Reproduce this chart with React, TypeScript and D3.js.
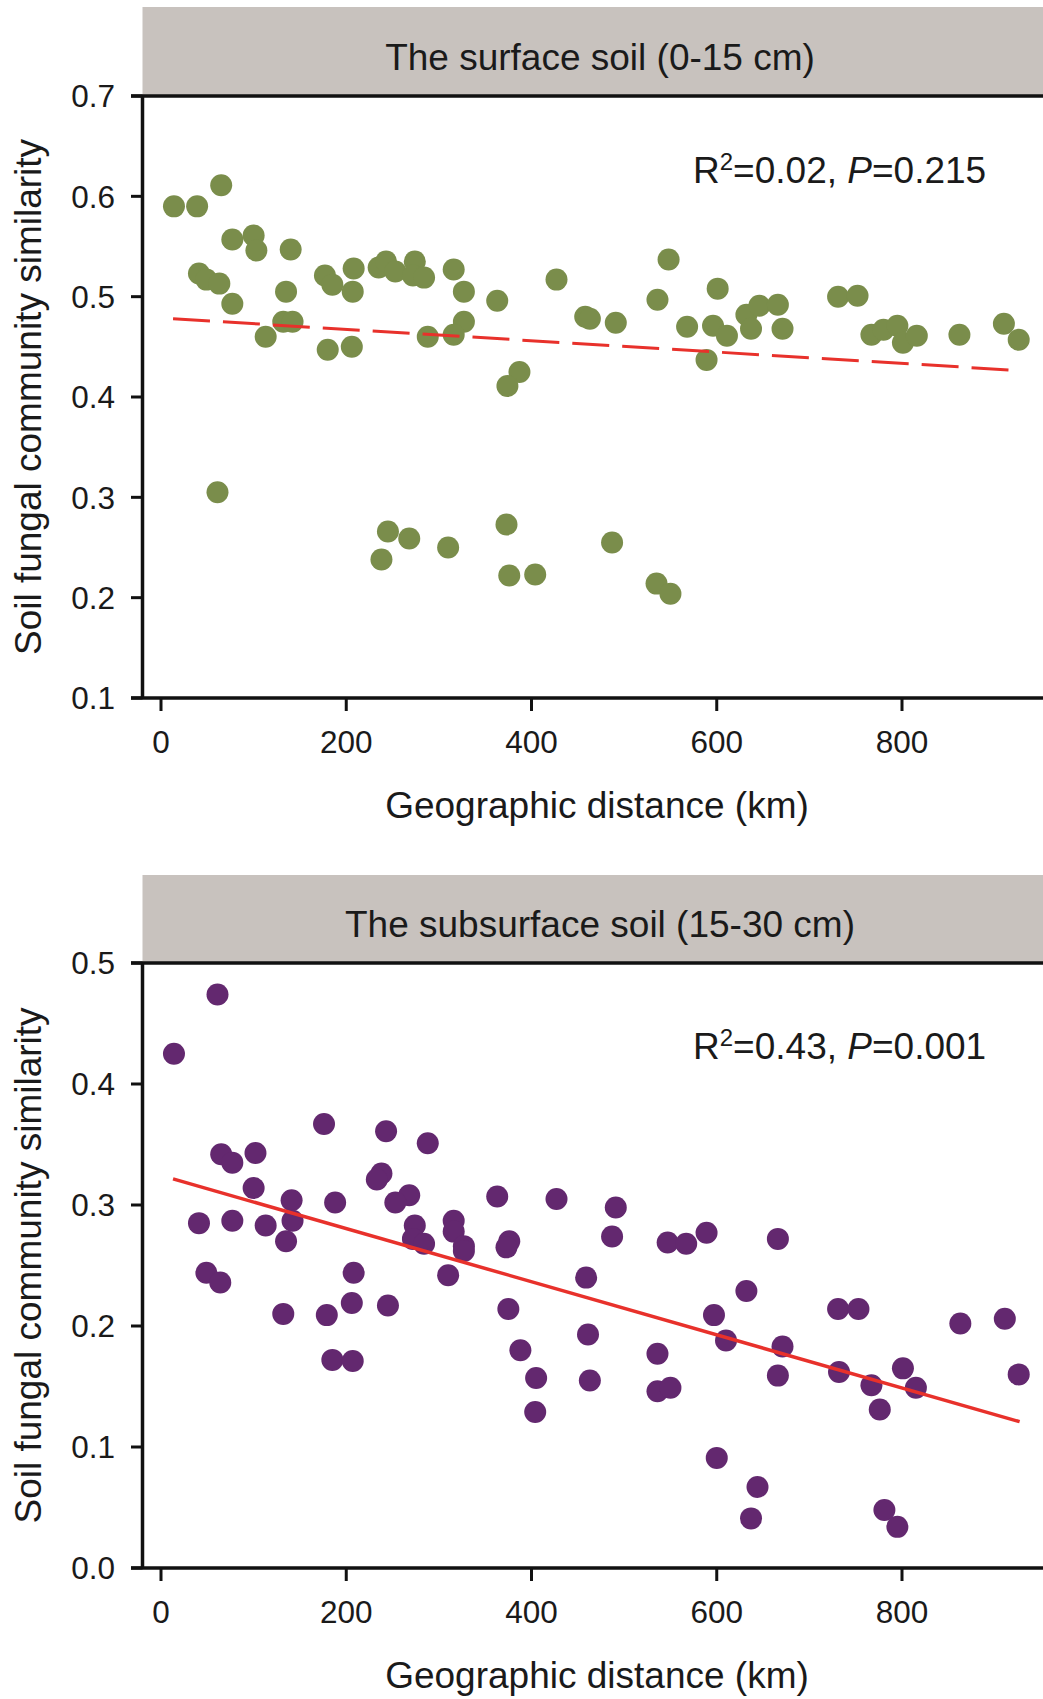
import React, { useEffect, useRef } from "react";
import * as d3 from "d3";

const W = 1043;
const H = 1699;

// The surface soil (0-15 cm)
const surfaceDistance = [
  14, 39, 65, 77, 100, 103, 140, 41, 49, 63, 77, 135, 113, 132, 142, 177, 185, 208,
  207, 180, 206, 235, 243, 253, 274, 272, 284, 316, 327, 327, 316, 288, 363, 387,
  374, 427, 458, 463, 491, 548, 536, 568, 601, 596, 611, 589, 632, 646, 666, 637,
  671, 731, 752, 767, 780, 795, 801, 816, 862, 910, 926, 61, 245, 268, 310, 238,
  373, 376, 404, 487, 535, 550,
];
const surfaceSimilarity = [
  0.590, 0.590, 0.611, 0.557, 0.561, 0.546, 0.547, 0.523, 0.517, 0.513, 0.493, 0.505,
  0.460, 0.475, 0.475, 0.521, 0.512, 0.528, 0.505, 0.447, 0.450, 0.529, 0.535, 0.525,
  0.535, 0.521, 0.519, 0.527, 0.505, 0.475, 0.462, 0.460, 0.496, 0.425, 0.411, 0.517,
  0.480, 0.478, 0.474, 0.537, 0.497, 0.470, 0.508, 0.471, 0.461, 0.437, 0.482, 0.491,
  0.492, 0.468, 0.468, 0.500, 0.501, 0.462, 0.467, 0.471, 0.454, 0.461, 0.462, 0.473,
  0.457, 0.305, 0.266, 0.259, 0.250, 0.238, 0.273, 0.222, 0.223, 0.255, 0.214, 0.204,
];

// The subsurface soil (15-30 cm)
const subsurfaceDistance = [
  14, 61, 176, 243, 288, 65, 77, 102, 100, 141, 188, 238, 233, 268, 253, 41, 77, 113,
  142, 135, 274, 272, 284, 316, 316, 327, 327, 363, 427, 376, 373, 49, 64, 208, 310,
  459, 491, 487, 547, 567, 589, 666, 632, 132, 179, 206, 245, 185, 207, 375, 388, 405,
  404, 461, 463, 536, 536, 550, 597, 610, 671, 666, 731, 753, 732, 767, 776, 801, 815,
  863, 911, 926, 600, 644, 637, 781, 795,
];
const subsurfaceSimilarity = [
  0.425, 0.474, 0.367, 0.361, 0.351, 0.342, 0.335, 0.343, 0.314, 0.304, 0.302, 0.326,
  0.321, 0.308, 0.302, 0.285, 0.287, 0.283, 0.287, 0.270, 0.283, 0.272, 0.268, 0.287,
  0.278, 0.266, 0.262, 0.307, 0.305, 0.270, 0.265, 0.244, 0.236, 0.244, 0.242, 0.240,
  0.298, 0.274, 0.269, 0.268, 0.277, 0.272, 0.229, 0.210, 0.209, 0.219, 0.217, 0.172,
  0.171, 0.214, 0.180, 0.157, 0.129, 0.193, 0.155, 0.177, 0.146, 0.149, 0.209, 0.188,
  0.183, 0.159, 0.214, 0.214, 0.162, 0.151, 0.131, 0.165, 0.149, 0.202, 0.206, 0.160,
  0.091, 0.067, 0.041, 0.048, 0.034,
];

// fitted lines
const surfaceFit = { intercept: 0.4787, slope: -0.0000565, from: 13, to: 917 };
const subsurfaceFit = { intercept: 0.3244, slope: -0.0002195, from: 13, to: 927 };

const xTicks = [0, 200, 400, 600, 800];
const surfaceYTicks = [0.1, 0.2, 0.3, 0.4, 0.5, 0.6, 0.7];
const subsurfaceYTicks = [0.0, 0.1, 0.2, 0.3, 0.4, 0.5];

const FONT = "'Liberation Sans', Arial, Helvetica, sans-serif";
const INK = "#1a1a1a";

const panels = [
  {
    title: "The surface soil (0-15 cm)",
    headerTop: 7,
    top: 96,
    bottom: 698,
    yDomain: [0.1, 0.7],
    yTicks: surfaceYTicks,
    dist: surfaceDistance,
    sim: surfaceSimilarity,
    fit: surfaceFit,
    color: "#7a8d4b",
    dashed: true,
    r2: "0.02",
    p: "0.215",
    statY: 183,
  },
  {
    title: "The subsurface soil (15-30 cm)",
    headerTop: 875,
    top: 963,
    bottom: 1568,
    yDomain: [0.0, 0.5],
    yTicks: subsurfaceYTicks,
    dist: subsurfaceDistance,
    sim: subsurfaceSimilarity,
    fit: subsurfaceFit,
    color: "#63286f",
    dashed: false,
    r2: "0.43",
    p: "0.001",
    statY: 1059,
  },
];

function App() {
  const svgRef = useRef(null);

  useEffect(() => {
    const svg = d3.select(svgRef.current);
    svg.selectAll("*").remove();

    const axisX = 142.5;
    const x = d3.scaleLinear().domain([0, 800]).range([161, 902]);

    panels.forEach((pn) => {
      const y = d3.scaleLinear().domain(pn.yDomain).range([pn.bottom, pn.top]);
      const g = svg.append("g");

      // grey header strip
      g.append("rect")
        .attr("x", axisX)
        .attr("y", pn.headerTop)
        .attr("width", W - axisX)
        .attr("height", pn.top - pn.headerTop)
        .attr("fill", "#c8c2be");
      g.append("text")
        .attr("x", 600)
        .attr("y", pn.top - 26)
        .attr("text-anchor", "middle")
        .style("font-size", "37px")
        .style("font-family", FONT)
        .attr("fill", INK)
        .text(pn.title);

      // points
      g.selectAll("circle.pt")
        .data(d3.zip(pn.dist, pn.sim))
        .enter()
        .append("circle")
        .attr("class", "pt")
        .attr("cx", (d) => x(d[0]))
        .attr("cy", (d) => y(d[1]))
        .attr("r", 11)
        .attr("fill", pn.color);

      // regression line
      const f = pn.fit;
      const line = d3
        .line()
        .x((d) => x(d))
        .y((d) => y(f.intercept + f.slope * d));
      g.append("path")
        .attr("d", line([f.from, f.to]))
        .attr("fill", "none")
        .attr("stroke", "#e8312b")
        .attr("stroke-width", pn.dashed ? 3 : 3.5)
        .attr("stroke-dasharray", pn.dashed ? "37,13" : null);

      // frame / axes
      const axisColor = "#111";
      g.append("line")
        .attr("x1", 131).attr("x2", W)
        .attr("y1", pn.top).attr("y2", pn.top)
        .attr("stroke", axisColor).attr("stroke-width", 3.5);
      g.append("line")
        .attr("x1", 131).attr("x2", W)
        .attr("y1", pn.bottom).attr("y2", pn.bottom)
        .attr("stroke", axisColor).attr("stroke-width", 3.5);
      g.append("line")
        .attr("x1", axisX).attr("x2", axisX)
        .attr("y1", pn.top).attr("y2", pn.bottom)
        .attr("stroke", axisColor).attr("stroke-width", 3.5);

      // y ticks + labels
      g.selectAll("line.yt")
        .data(pn.yTicks)
        .enter()
        .append("line")
        .attr("x1", 131).attr("x2", axisX)
        .attr("y1", (d) => y(d)).attr("y2", (d) => y(d))
        .attr("stroke", axisColor).attr("stroke-width", 3);
      g.selectAll("text.yl")
        .data(pn.yTicks)
        .enter()
        .append("text")
        .attr("x", 115)
        .attr("y", (d) => y(d))
        .attr("dy", "0.36em")
        .attr("text-anchor", "end")
        .style("font-size", "31.5px")
        .style("font-family", FONT)
        .attr("fill", INK)
        .text((d) => d3.format(".1f")(d));

      // x ticks + labels
      g.selectAll("line.xt")
        .data(xTicks)
        .enter()
        .append("line")
        .attr("x1", (d) => x(d)).attr("x2", (d) => x(d))
        .attr("y1", pn.bottom).attr("y2", pn.bottom + 13)
        .attr("stroke", axisColor).attr("stroke-width", 3);
      g.selectAll("text.xl")
        .data(xTicks)
        .enter()
        .append("text")
        .attr("x", (d) => x(d))
        .attr("y", pn.bottom + 55)
        .attr("text-anchor", "middle")
        .style("font-size", "31.5px")
        .style("font-family", FONT)
        .attr("fill", INK)
        .text((d) => d);

      // axis titles
      g.append("text")
        .attr("x", 597)
        .attr("y", pn.bottom + 120)
        .attr("text-anchor", "middle")
        .style("font-size", "37px")
        .style("font-family", FONT)
        .attr("fill", INK)
        .text("Geographic distance (km)");
      g.append("text")
        .attr("transform", `translate(41,${(pn.top + pn.bottom) / 2}) rotate(-90)`)
        .attr("text-anchor", "middle")
        .style("font-size", "37px")
        .style("font-family", FONT)
        .attr("fill", INK)
        .text("Soil fungal community similarity");

      // R2 / P annotation
      const st = g.append("text")
        .attr("x", 693)
        .attr("y", pn.statY)
        .style("font-size", "37px")
        .style("font-family", FONT)
        .attr("fill", INK);
      st.append("tspan").text("R");
      st.append("tspan").attr("dy", -13).style("font-size", "24px").text("2");
      st.append("tspan").attr("dy", 13).text(`=${pn.r2}, `);
      st.append("tspan").style("font-style", "italic").text("P");
      st.append("tspan").text(`=${pn.p}`);
    });
  }, []);

  return (
    <svg
      ref={svgRef}
      width={W}
      height={H}
      style={{ position: "absolute", left: 0, top: 0, background: "#fff" }}
    />
  );
}

export default App;
